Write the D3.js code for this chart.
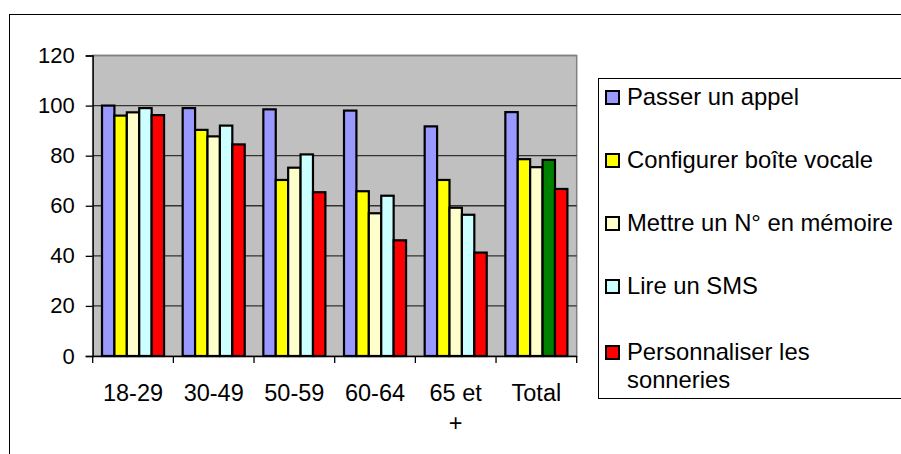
<!DOCTYPE html>
<html><head><meta charset="utf-8">
<script src="https://cdn.jsdelivr.net/npm/d3@7"></script>
<style>body{margin:0;background:#fff}svg{display:block}svg text{font-family:"Liberation Sans",Arial,sans-serif}</style>
</head><body>
<svg id="c" width="901" height="454"></svg>
<script>
const categories = ["18-29","30-49","50-59","60-64","65 et +","Total"];
const seriesNames = ["Passer un appel","Configurer boîte vocale","Mettre un N° en mémoire","Lire un SMS","Personnaliser les sonneries"];
const passerAppel = [100, 99, 98.5, 98, 91.7, 97.4];
const configurerBoite = [96, 90.3, 70.3, 65.8, 70.3, 78.6];
const mettreMemoire = [97.3, 87.7, 75.2, 57, 59.2, 75.4];
const lireSMS = [99, 92, 80.5, 64, 56.4, 78.3];
const personnaliser = [96.2, 84.5, 65.4, 46.2, 41.3, 66.7];
const yTicks = [0,20,40,60,80,100,120];
const colors = ["#9999FF","#FFFF00","#FFFFCC","#CCFFFF","#FF0000"];
const specialColor = "#008000"; // Lire un SMS, Total

const series = [passerAppel, configurerBoite, mettreMemoire, lireSMS, personnaliser];
const svg = d3.select("#c");

// outer chart border
svg.append("rect").attr("x",9.5).attr("y",14.5).attr("width",1000).attr("height",1000)
  .attr("fill","none").attr("stroke","#000").attr("stroke-width",1);

const L = 92.7, R = 576.7, T = 55.5, B = 356;
const x0 = d3.scaleBand().domain(categories).range([L,R]).paddingInner(0).paddingOuter(0);
const bw = x0.bandwidth()/6.5;
const x1 = d3.scaleBand().domain(d3.range(5)).range([0.75*bw, 5.75*bw]);
const y = d3.scaleLinear().domain([0,120]).range([B,T]);

// plot area
svg.append("rect").attr("x",L).attr("y",T).attr("width",R-L).attr("height",B-T)
  .attr("fill","#C0C0C0").attr("stroke","#808080").attr("stroke-width",1.5);

// gridlines
svg.append("g").selectAll("line").data(yTicks.filter(d=>d>0)).join("line")
  .attr("x1",L).attr("x2",R).attr("y1",d=>y(d)).attr("y2",d=>y(d))
  .attr("stroke",d=>d===120?"#808080":"#333").attr("stroke-width",1.3);

// bars
const g = svg.append("g");
categories.forEach((c,ci)=>{
  series.forEach((s,si)=>{
    const fill = (ci===categories.length-1 && si===3) ? specialColor : colors[si];
    g.append("rect")
      .attr("x", x0(c)+x1(si)).attr("width", x1.bandwidth())
      .attr("y", y(s[ci])).attr("height", B - y(s[ci]))
      .attr("fill", fill).attr("stroke","#000").attr("stroke-width",2.2);
  });
});

// y axis
const ya = svg.append("g").attr("transform",`translate(${L},0)`)
  .call(d3.axisLeft(y).tickValues(yTicks).tickSize(7).tickPadding(11));
ya.attr("font-family",null);
ya.select(".domain").attr("stroke","#000").attr("stroke-width",1.3);
ya.selectAll(".tick line").attr("stroke","#000").attr("stroke-width",1.3);
ya.selectAll("text").attr("font-size",22).attr("fill","#000");

// x axis
const xa = svg.append("g").attr("transform",`translate(0,${B})`)
  .call(d3.axisBottom(x0).tickSize(0).tickFormat(""));
xa.select(".domain").attr("stroke","#000").attr("stroke-width",1.3);
const bounds = categories.map(c=>x0(c)).concat([R]);
xa.append("g").selectAll("line").data(bounds).join("line")
  .attr("x1",d=>d).attr("x2",d=>d).attr("y1",0).attr("y2",7)
  .attr("stroke","#000").attr("stroke-width",1.3);
categories.forEach(c=>{
  const cx = x0(c)+x0.bandwidth()/2;
  const lines = c==="65 et +" ? ["65 et","+"] : [c];
  lines.forEach((t,i)=>{
    svg.append("text").attr("x",cx).attr("y",B+45+i*30).attr("text-anchor","middle")
      .attr("font-size",23.5).attr("fill","#000").text(t);
  });
});

// legend
svg.append("rect").attr("x",598.5).attr("y",78.5).attr("width",400).attr("height",320)
  .attr("fill","#fff").attr("stroke","#000").attr("stroke-width",1);
const legY = [105,168,231,294,360];
seriesNames.forEach((n,i)=>{
  svg.append("rect").attr("x",606).attr("y",legY[i]-14).attr("width",13).attr("height",13)
    .attr("fill",colors[i]).attr("stroke","#000").attr("stroke-width",2);
  const lines = i===4 ? ["Personnaliser les","sonneries"] : [n];
  lines.forEach((t,j)=>{
    svg.append("text").attr("x",627).attr("y",legY[i]+j*28).attr("font-size",23.8)
      .attr("fill","#000").text(t);
  });
});
</script>
</body></html>
